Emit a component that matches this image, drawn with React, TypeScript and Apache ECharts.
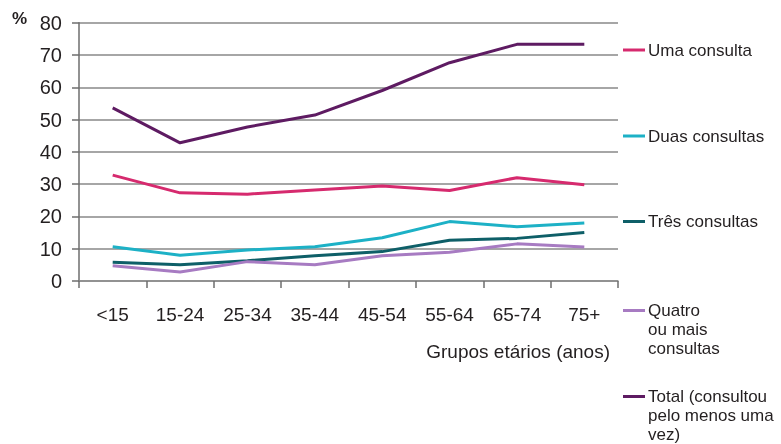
import React, { useEffect, useRef } from "react";
import * as echarts from "echarts";

const categories = ["<15", "15-24", "25-34", "35-44", "45-54", "55-64", "65-74", "75+"];
const seriesNames = [
  "Uma consulta",
  "Duas consultas",
  "Três consultas",
  "Quatro\nou mais\nconsultas",
  "Total (consultou\npelo menos uma\nvez)",
];
const umaConsulta = [32.8, 27.3, 26.9, 28.2, 29.4, 28.0, 32.0, 29.8];
const duasConsultas = [10.6, 8.0, 9.6, 10.6, 13.4, 18.4, 16.8, 18.0];
const tresConsultas = [5.8, 5.0, 6.3, 7.8, 9.1, 12.6, 13.2, 15.0];
const quatroConsultas = [4.7, 2.8, 6.0, 5.0, 7.8, 8.9, 11.5, 10.5];
const total = [53.6, 42.8, 47.7, 51.4, 59.0, 67.6, 73.3, 73.3];
const colors = ["#d62a6e", "#1db1c6", "#0e5f68", "#a77bc2", "#5e1b62"];
const yTicks = { min: 0, max: 80, interval: 10 };
const xAxisTitle = "Grupos etários (anos)";
const yAxisTitle = "%";

const FONT = "'Liberation Sans', Arial, sans-serif";

export default function App() {
  const ref = useRef<HTMLDivElement>(null);
  useEffect(() => {
    if (!ref.current) return;
    document.body.style.margin = "0";
    document.body.style.overflow = "hidden";
    const chart = echarts.init(ref.current, undefined, { renderer: "svg" });
    const dataSets = [umaConsulta, duasConsultas, tresConsultas, quatroConsultas, total];
    const legendCenters = [50, 136, 221.5, 310.5, 396.5];
    const lineH = 19;
    const legends = seriesNames.map((name, i) => {
      const lines = name.split("\n").length;
      const prefix = "\n".repeat(lines - 1);
      const totalLines = lines * 2 - 1;
      const boxH = totalLines * lineH;
      return {
        left: 623,
        top: legendCenters[i] - boxH / 2,
        padding: 0,
        orient: "vertical",
        data: [name],
        formatter: (n: string) => prefix + n,
        icon: "rect",
        itemWidth: 22,
        itemHeight: 3,
        selectedMode: false,
        textStyle: {
          fontFamily: FONT,
          fontSize: 17,
          color: "#231f20",
          lineHeight: lineH,
          padding: [0, 0, 0, -2],
        },
      };
    });
    chart.setOption({
      animation: false,
      textStyle: { fontFamily: FONT },
      grid: { left: 79, right: 163, top: 22.7, bottom: 163, containLabel: false },
      legend: legends,
      xAxis: {
        type: "category",
        data: categories,
        boundaryGap: true,
        name: xAxisTitle,
        nameLocation: "end",
        nameGap: -8,
        nameTextStyle: {
          fontFamily: FONT,
          fontSize: 19,
          color: "#231f20",
          align: "right",
          verticalAlign: "top",
          padding: [61, 0, 0, 0],
        },
        axisLine: { lineStyle: { color: "#8c8c8c", width: 1.5 } },
        axisTick: { show: true, length: 7, alignWithLabel: false, lineStyle: { color: "#6e6e6e", width: 1.5 } },
        axisLabel: { fontFamily: FONT, fontSize: 19, color: "#231f20", margin: 24 },
      },
      yAxis: {
        type: "value",
        min: yTicks.min,
        max: yTicks.max,
        interval: yTicks.interval,
        name: yAxisTitle,
        nameLocation: "end",
        nameGap: 4,
        nameTextStyle: {
          fontFamily: FONT,
          fontSize: 17,
          fontWeight: "bold",
          color: "#231f20",
          align: "right",
          verticalAlign: "middle",
          padding: [0, 52, 0, 0],
        },
        axisLine: { show: true, lineStyle: { color: "#6e6e6e", width: 1.5 } },
        axisTick: { show: true, length: 7, lineStyle: { color: "#6e6e6e", width: 1.5 } },
        axisLabel: { fontFamily: FONT, fontSize: 20, color: "#231f20", margin: 17 },
        splitLine: { show: true, lineStyle: { color: "#a6a6a6", width: 2 } },
      },
      series: seriesNames.map((name, i) => ({
        name,
        type: "line",
        data: dataSets[i],
        symbol: "none",
        color: colors[i],
        lineStyle: { width: 3, color: colors[i] },
        z: i === 4 ? 3 : 2,
      })),
    });
    return () => chart.dispose();
  }, []);
  return <div ref={ref} style={{ position: "fixed", left: 0, top: 0, width: 781, height: 444 }} />;
}
